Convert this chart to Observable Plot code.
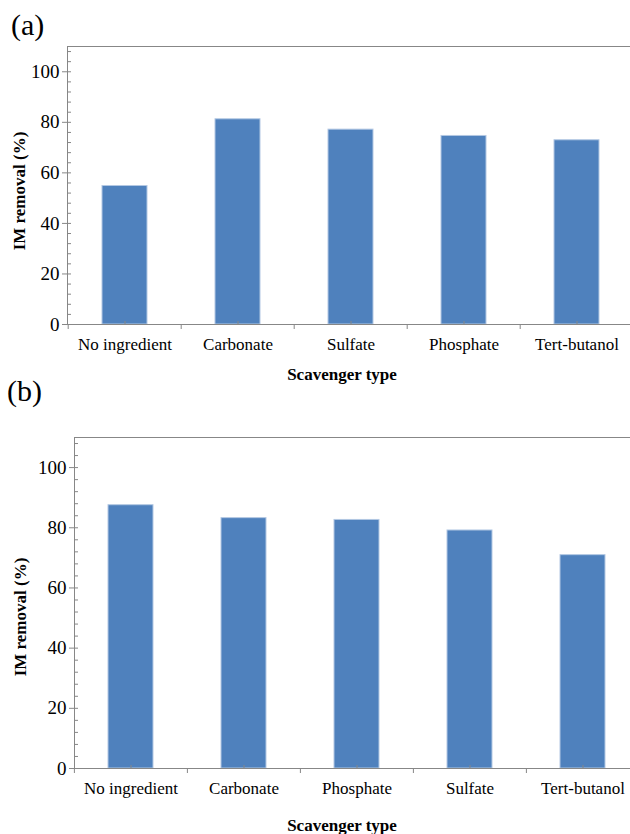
<!DOCTYPE html>
<html><head><meta charset="utf-8">
<script src="https://cdn.jsdelivr.net/npm/d3@7"></script>
<script src="https://cdn.jsdelivr.net/npm/@observablehq/plot@0.6"></script>
<style>
body{margin:0;background:#fff;}
#wrap{position:relative;width:630px;height:834px;overflow:hidden;font-family:"Liberation Serif","Times New Roman",serif;color:#000;background:#fff;}
.panel{position:absolute;left:0;}
.tag{position:absolute;font-size:30px;line-height:1;}
.xt{position:absolute;font-weight:bold;font-size:17px;line-height:1;transform:translateX(-50%);white-space:nowrap;}
.yt{position:absolute;font-weight:bold;font-size:17px;line-height:1;transform:translate(-50%,-50%) rotate(-90deg);white-space:nowrap;}
</style></head><body><div id="wrap"></div>
<script>
// Panel (a)
const categoriesA = ["No ingredient", "Carbonate", "Sulfate", "Phosphate", "Tert-butanol"];
const valuesA = [54.8, 81.2, 77.1, 74.6, 72.9];
// Panel (b)
const categoriesB = ["No ingredient", "Carbonate", "Phosphate", "Sulfate", "Tert-butanol"];
const valuesB = [87.5, 83.2, 82.6, 79.1, 70.9];
// Axis ticks
const yMajorTicks = [0, 20, 40, 60, 80, 100];
const yMinorTicks = [4, 8, 12, 16, 24, 28, 32, 36, 44, 48, 52, 56, 64, 68, 72, 76, 84, 88, 92, 96, 104, 108];
const yDomain = [0, 110];
const yLabel = "IM removal (%)";
const xLabel = "Scavenger type";

const wrap = document.getElementById("wrap");
const AXIS = "#878787";

function panel(cats, vals, o) {
  const data = cats.map((c, i) => ({cat: c, val: vals[i]}));
  const step = (o.x1 - o.x0) / cats.length;
  const svg = Plot.plot({
    width: 630,
    height: o.height,
    marginTop: o.marginTop,
    marginBottom: o.marginBottom,
    marginLeft: o.x0,
    marginRight: 0,
    style: {fontFamily: '"Liberation Serif","Times New Roman",serif', fontSize: "17px", color: "#000", background: "#fff"},
    x: {domain: cats, range: [o.x0, o.x1], paddingInner: 0.6, paddingOuter: 0.3, label: null},
    y: {domain: yDomain, label: null},
    marks: [
      Plot.barY(data, {x: "cat", y: "val", fill: "#4f81bd", stroke: "#b3c8e3", strokeWidth: 1}),
      Plot.frame({anchor: "left", stroke: AXIS}),
      Plot.frame({anchor: "top", stroke: AXIS}),
      Plot.frame({anchor: "bottom", stroke: AXIS}),
      Plot.axisY({ticks: yMajorTicks, tickSize: 5, tickPadding: 3, stroke: AXIS, fill: "#000", label: null, fontSize: 19}),
      Plot.axisY({ticks: yMajorTicks, tickSize: -4, text: null, stroke: AXIS, label: null}),
      Plot.axisY({ticks: yMinorTicks, tickSize: -4, text: null, stroke: AXIS, label: null}),
      Plot.axisX({tickSize: 0, tickPadding: 13, fill: "#000", label: null, fontSize: 17}),
      Plot.axisX({tickSize: 5, text: null, dx: -step / 2, stroke: AXIS, label: null}),
      Plot.axisX({tickSize: -3, text: null, stroke: AXIS, label: null})
    ]
  });
  svg.classList.add("panel");
  svg.style.top = o.top + "px";
  svg.style.overflow = "hidden";
  wrap.appendChild(svg);

  const tag = document.createElement("div");
  tag.className = "tag"; tag.textContent = o.tag;
  tag.style.left = o.tagX + "px"; tag.style.top = o.tagY + "px";
  wrap.appendChild(tag);

  const yt = document.createElement("div");
  yt.className = "yt"; yt.textContent = yLabel;
  yt.style.left = o.ylx + "px"; yt.style.top = o.yly + "px";
  wrap.appendChild(yt);

  const xt = document.createElement("div");
  xt.className = "xt"; xt.textContent = xLabel;
  xt.style.left = o.xlx + "px"; xt.style.top = o.xly + "px";
  wrap.appendChild(xt);
}

panel(categoriesA, valuesA, {top: 0, height: 390, marginTop: 46, marginBottom: 66, x0: 67, x1: 635,
  tag: "(a)", tagX: 11, tagY: 10, ylx: 19, yly: 191, xlx: 342, xly: 366});
panel(categoriesB, valuesB, {top: 390, height: 444, marginTop: 47, marginBottom: 66, x0: 74, x1: 640,
  tag: "(b)", tagX: 7, tagY: 376, ylx: 20, yly: 617, xlx: 342, xly: 817});
</script></body></html>
